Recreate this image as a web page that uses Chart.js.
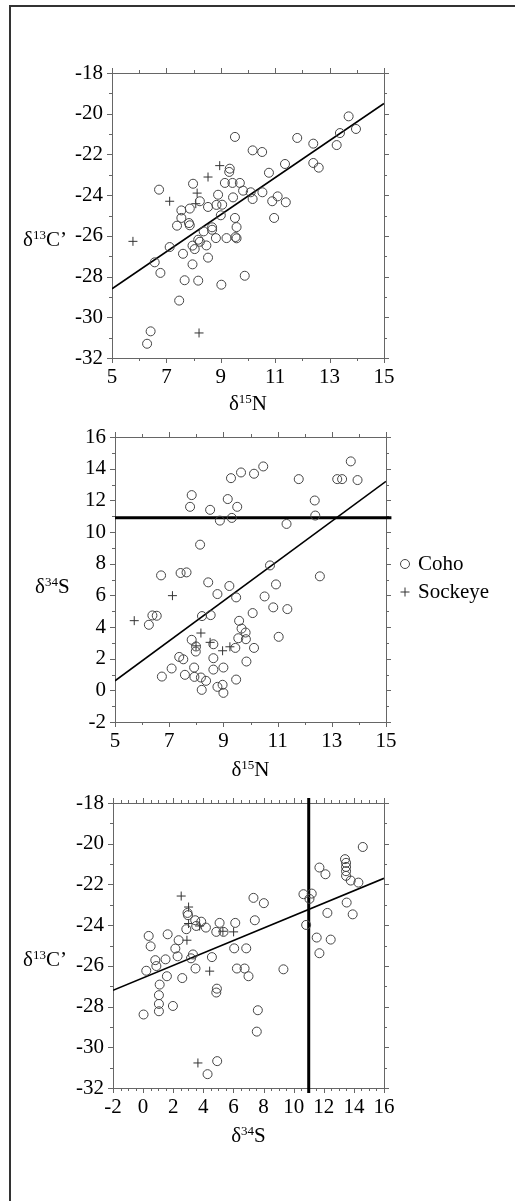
<!DOCTYPE html>
<html lang="en">
<head>
<meta charset="UTF-8">
<title>isotope scatter</title>
<style>
  body { margin: 0; background: #fff; }
  #page { position: relative; width: 515px; height: 1201px; overflow: hidden; }
  #edge { position: absolute; left: 9px; top: 5px; right: -10px; bottom: -10px;
          border-left: 2px solid #333; border-top: 2px solid #333; }
  canvas { position: absolute; left: 0; top: 0; }
</style>
</head>
<body>
<div id="page">
  <div id="edge"></div>
  <canvas id="c1" width="515" height="1201"></canvas>
  <canvas id="c2" width="515" height="1201"></canvas>
  <canvas id="c3" width="515" height="1201"></canvas>
</div>
<script src="https://cdn.jsdelivr.net/npm/chart.js"></script>
<script>
// ---- data ----
// panel 1: d15N (x) vs d13C' (y)
const p1CohoX = [9.52,13.70,13.97,13.38,13.26,12.40,11.81,10.17,10.52,11.36,12.40,12.60,10.77,9.33,9.31,9.15,9.43,9.70,7.98,6.73,9.82,10.10,10.53,8.90,9.45,10.17,11.09,10.89,11.39,8.23,7.55,7.86,8.53,8.84,9.05,9.00,9.52,10.96,7.55,7.39,7.83,7.86,8.68,8.68,8.37,9.58,9.54,9.58,9.21,8.82,8.17,8.23,8.47,7.96,8.04,7.12,7.61,8.53,6.57,7.96,6.78,7.67,8.17,9.02,9.88,7.47,6.42,6.29];
const p1CohoY = [-21.14,-20.13,-20.75,-20.95,-21.54,-21.47,-21.19,-21.80,-21.88,-22.47,-22.42,-22.65,-22.90,-22.70,-22.86,-23.40,-23.40,-23.40,-23.44,-23.73,-23.78,-23.86,-23.86,-23.98,-24.11,-24.19,-24.06,-24.30,-24.35,-24.30,-24.75,-24.66,-24.58,-24.48,-24.47,-24.99,-25.12,-25.12,-25.12,-25.50,-25.37,-25.48,-25.58,-25.70,-25.78,-25.57,-26.06,-26.12,-26.11,-26.11,-26.19,-26.29,-26.47,-26.48,-26.65,-26.55,-26.88,-27.07,-27.30,-27.40,-27.82,-28.18,-28.20,-28.40,-27.96,-29.18,-30.69,-31.30];
const p1SockX = [5.77,7.12,8.13,8.53,8.96,8.08,8.20];
const p1SockY = [-26.27,-24.30,-23.90,-23.11,-22.55,-24.42,-30.77];
const p1FitX = [5, 15];
const p1FitY = [-28.6, -19.5];

// panel 2: d15N (x) vs d34S (y)
const p2CohoX = [13.70,10.47,9.65,10.13,9.28,11.78,13.20,13.38,13.95,7.83,9.16,12.37,7.77,8.51,9.51,9.31,8.87,12.39,11.33,8.14,10.72,6.70,7.42,7.64,12.56,8.44,9.22,10.94,8.78,9.47,10.52,10.84,11.36,10.08,6.38,6.54,6.25,8.21,8.53,9.58,9.67,9.82,9.83,9.55,11.04,7.83,7.99,8.63,9.44,10.13,7.98,7.37,7.52,8.63,9.85,7.09,7.92,8.63,9.00,6.73,7.58,7.93,8.17,8.36,9.47,8.78,8.97,8.20,9.00];
const p2CohoY = [14.46,14.14,13.76,13.68,13.40,13.34,13.34,13.34,13.28,12.33,12.08,11.99,11.59,11.40,11.59,10.89,10.72,11.04,10.51,9.20,7.89,7.26,7.41,7.45,7.20,6.82,6.59,6.69,6.08,5.87,5.93,5.24,5.13,4.88,4.73,4.71,4.14,4.69,4.75,4.39,3.90,3.65,3.23,3.29,3.38,3.19,2.77,2.91,2.68,2.68,2.45,2.11,1.96,2.03,1.82,1.38,1.44,1.31,1.44,0.87,0.98,0.85,0.81,0.60,0.68,0.22,0.35,0.03,-0.16];
const p2SockX = [5.71,7.12,8.17,7.99,8.51,8.97,9.24];
const p2SockY = [4.40,5.98,3.62,2.81,3.03,2.50,2.75];
const p2FitX = [5, 15];
const p2FitY = [0.6, 13.2];
const p2CutX = [5, 15.2];
const p2CutY = [10.9, 10.9];

// panel 3: d34S (x) vs d13C' (y)
const p3CohoX = [14.59,13.41,13.48,13.48,13.48,13.48,11.71,12.11,13.79,14.30,10.65,11.20,11.05,7.33,8.02,13.52,12.24,13.92,2.95,2.98,7.42,3.46,3.86,4.17,3.53,5.08,6.12,4.86,5.34,2.87,10.83,0.37,1.63,0.50,2.36,2.14,2.29,3.31,3.18,4.57,6.05,6.85,11.53,12.46,11.71,0.81,1.49,0.21,0.88,1.58,2.60,3.48,6.23,6.74,7.00,9.32,1.10,1.05,4.90,4.86,1.05,1.05,1.98,0.03,7.62,7.55,4.92,4.28];
const p3CohoY = [-20.16,-20.76,-20.94,-21.14,-21.35,-21.58,-21.17,-21.50,-21.81,-21.91,-22.48,-22.45,-22.71,-22.66,-22.92,-22.89,-23.40,-23.47,-23.40,-23.51,-23.76,-23.76,-23.83,-24.12,-24.04,-23.89,-23.89,-24.33,-24.33,-24.20,-23.99,-24.53,-24.45,-25.04,-24.74,-25.15,-25.53,-25.44,-25.63,-25.57,-25.14,-25.14,-24.61,-24.71,-25.38,-25.72,-25.68,-26.24,-26.01,-26.51,-26.60,-26.13,-26.13,-26.13,-26.51,-26.17,-26.92,-27.44,-27.12,-27.31,-27.87,-28.23,-27.97,-28.39,-28.18,-29.23,-30.68,-31.32];
const p3SockX = [2.53,3.02,3.02,3.75,2.91,6.01,4.42,3.64,5.30];
const p3SockY = [-22.57,-23.11,-23.92,-24.04,-24.74,-24.33,-26.26,-30.77,-24.30];
const p3FitX = [-2, 16];
const p3FitY = [-27.2, -21.7];
const p3CutX = [11, 11];
const p3CutY = [-17.75, -32.25];

// tick labels
const ticksN = [5, 7, 9, 11, 13, 15];
const ticksC = [-32, -30, -28, -26, -24, -22, -20, -18];
const ticksS = [-2, 0, 2, 4, 6, 8, 10, 12, 14, 16];

const legendNames = ['Coho', 'Sockeye'];

// ---- drawing ----
const SERIF = '"Liberation Serif", "Times New Roman", serif';
Chart.defaults.font.family = SERIF;

const pts = (xs, ys) => xs.map((x, i) => ({ x: x, y: ys[i] }));

// writes text made of [string, isSuperscript] parts
function supText(ctx, parts, x, y, align) {
  const big = '21px ' + SERIF, small = '13px ' + SERIF;
  let w = 0;
  parts.forEach(p => { ctx.font = p[1] ? small : big; w += ctx.measureText(p[0]).width; });
  let cx = align === 'center' ? x - w / 2 : x;
  ctx.textAlign = 'left';
  ctx.textBaseline = 'alphabetic';
  parts.forEach(p => {
    ctx.font = p[1] ? small : big;
    ctx.fillText(p[0], cx, p[1] ? y - 7 : y);
    cx += ctx.measureText(p[0]).width;
  });
}

const deco = {
  id: 'deco',
  beforeDatasetsDraw(chart, args, o) {
    const ctx = chart.ctx, a = chart.chartArea;
    const xs = chart.scales.x, ys = chart.scales.y;
    ctx.save();
    ctx.strokeStyle = '#666';
    ctx.lineWidth = 1;
    ctx.strokeRect(Math.round(a.left) + 0.5, Math.round(a.top) + 0.5,
                   Math.round(a.right - a.left), Math.round(a.bottom - a.top));
    ctx.beginPath();
    for (let v = xs.min; v <= xs.max + 1e-9; v += o.xMinor) {
      const px = Math.round(xs.getPixelForValue(v)) + 0.5;
      const len = o.xLabels.some(t => Math.abs(t - v) < 1e-6) ? 5 : 3;
      ctx.moveTo(px, a.bottom); ctx.lineTo(px, a.bottom + len);
      ctx.moveTo(px, a.top); ctx.lineTo(px, a.top - len);
    }
    for (let v = ys.min; v <= ys.max + 1e-9; v += o.yMinor) {
      const py = Math.round(ys.getPixelForValue(v)) + 0.5;
      const len = o.yLabels.some(t => Math.abs(t - v) < 1e-6) ? 5 : 3;
      ctx.moveTo(a.left, py); ctx.lineTo(a.left - len, py);
      ctx.moveTo(a.right, py); ctx.lineTo(a.right + len, py);
    }
    ctx.stroke();
    ctx.restore();
  },
  afterDraw(chart, args, o) {
    const ctx = chart.ctx, a = chart.chartArea;
    ctx.save();
    ctx.fillStyle = '#000';
    supText(ctx, o.xTitle, (a.left + a.right) / 2, a.bottom + o.xTitleGap, 'center');
    supText(ctx, o.yTitle, o.yTitleX, o.yTitleY, 'left');
    if (o.legend) {
      const lg = o.legend;
      ctx.strokeStyle = '#444';
      ctx.lineWidth = 1;
      ctx.beginPath();
      ctx.arc(lg.x, lg.y, 4.5, 0, Math.PI * 2);
      ctx.stroke();
      ctx.strokeStyle = '#333';
      ctx.beginPath();
      ctx.moveTo(lg.x - 4.5, lg.y + lg.gap); ctx.lineTo(lg.x + 4.5, lg.y + lg.gap);
      ctx.moveTo(lg.x, lg.y + lg.gap - 4.5); ctx.lineTo(lg.x, lg.y + lg.gap + 4.5);
      ctx.stroke();
      ctx.font = '21px ' + SERIF;
      ctx.textBaseline = 'middle';
      ctx.textAlign = 'left';
      ctx.fillText(legendNames[0], lg.x + 13, lg.y);
      ctx.fillText(legendNames[1], lg.x + 13, lg.y + lg.gap);
    }
    ctx.restore();
  }
};

function panel(id, p) {
  const sets = [
    { data: pts(p.cohoX, p.cohoY), pointStyle: 'circle', pointRadius: 4.5,
      borderColor: '#444', borderWidth: 1, backgroundColor: 'rgba(0,0,0,0)' },
    { data: pts(p.sockX, p.sockY), pointStyle: 'cross', pointRadius: 4.5,
      borderColor: '#333', borderWidth: 1 },
    { data: pts(p.fitX, p.fitY), showLine: true, pointRadius: 0,
      borderColor: '#000', borderWidth: 1.6 }
  ];
  if (p.cutX) {
    sets.push({ data: pts(p.cutX, p.cutY), showLine: true, pointRadius: 0,
      borderColor: '#000', borderWidth: 3, clip: false });
  }
  const tickFont = { family: SERIF, size: 21 };
  return new Chart(document.getElementById(id), {
    type: 'scatter',
    data: { datasets: sets },
    options: {
      responsive: false,
      animation: false,
      events: [],
      layout: { padding: { left: 0, top: p.box.top, right: 515 - p.box.right, bottom: 1201 - p.box.bottom - 40 } },
      plugins: {
        legend: { display: false },
        tooltip: { enabled: false },
        deco: {
          xMinor: p.xMinor, yMinor: p.yMinor, xLabels: p.xTicks, yLabels: p.yTicks,
          xTitle: p.xTitle, xTitleGap: p.xTitleGap, yTitle: p.yTitle,
          yTitleX: p.yTitleX, yTitleY: p.yTitleY, legend: p.legend
        }
      },
      scales: {
        x: {
          type: 'linear', min: p.xTicks[0], max: p.xTicks[p.xTicks.length - 1],
          afterFit: s => { s.height = 40; },
          afterBuildTicks: s => { s.ticks = p.xTicks.map(v => ({ value: v })); },
          ticks: { font: tickFont, color: '#000', padding: 7, autoSkip: false, maxRotation: 0 },
          grid: { display: false, drawTicks: false },
          border: { display: false }
        },
        y: {
          type: 'linear', min: p.yTicks[0], max: p.yTicks[p.yTicks.length - 1],
          afterFit: s => { s.width = p.box.left; },
          afterBuildTicks: s => { s.ticks = p.yTicks.map(v => ({ value: v })); },
          ticks: { font: tickFont, color: '#000', padding: 9, autoSkip: false },
          grid: { display: false, drawTicks: false },
          border: { display: false }
        }
      }
    },
    plugins: [deco]
  });
}

const tN = [['\u03b4', false], ['15', true], ['N', false]];
const tC = [['\u03b4', false], ['13', true], ['C\u2019', false]];
const tS = [['\u03b4', false], ['34', true], ['S', false]];

panel('c1', {
  box: { left: 112, right: 384, top: 73, bottom: 358 },
  cohoX: p1CohoX, cohoY: p1CohoY, sockX: p1SockX, sockY: p1SockY, fitX: p1FitX, fitY: p1FitY,
  xTicks: ticksN, yTicks: ticksC, xMinor: 1, yMinor: 1,
  xTitle: tN, xTitleGap: 52, yTitle: tC, yTitleX: 23, yTitleY: 246
});
panel('c2', {
  box: { left: 115, right: 386, top: 437, bottom: 722 },
  cohoX: p2CohoX, cohoY: p2CohoY, sockX: p2SockX, sockY: p2SockY, fitX: p2FitX, fitY: p2FitY,
  cutX: p2CutX, cutY: p2CutY,
  xTicks: ticksN, yTicks: ticksS, xMinor: 1, yMinor: 1,
  xTitle: tN, xTitleGap: 54, yTitle: tS, yTitleX: 35, yTitleY: 593,
  legend: { x: 405, y: 564, gap: 28 }
});
panel('c3', {
  box: { left: 113, right: 384, top: 803, bottom: 1088 },
  cohoX: p3CohoX, cohoY: p3CohoY, sockX: p3SockX, sockY: p3SockY, fitX: p3FitX, fitY: p3FitY,
  cutX: p3CutX, cutY: p3CutY,
  xTicks: ticksS, yTicks: ticksC, xMinor: 0.5, yMinor: 1,
  xTitle: tS, xTitleGap: 54, yTitle: tC, yTitleX: 23, yTitleY: 966
});
</script>
</body>
</html>
